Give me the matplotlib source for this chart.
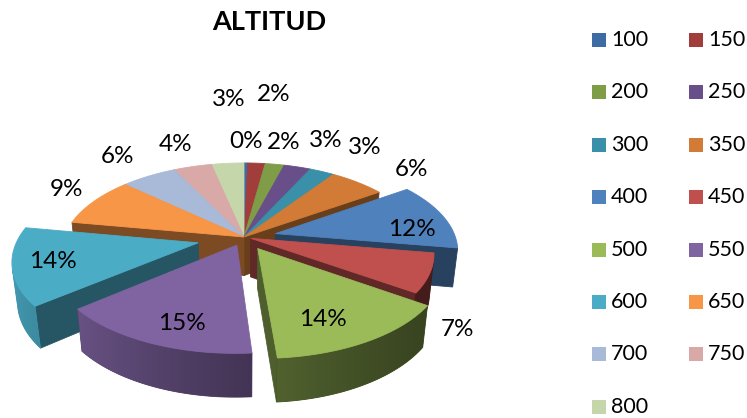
import matplotlib.pyplot as plt
import numpy as np
from matplotlib.patches import Polygon, Rectangle
from matplotlib.colors import to_rgb

# ---- data (share of records per altitude class, %) ----
altitudes = ['100', '150', '200', '250', '300', '350', '400', '450',
             '500', '550', '600', '650', '700', '750', '800']
shares = [0.4, 1.8, 2.0, 2.8, 2.6, 5.8, 12.2, 7.0, 14.2, 15.2, 13.8, 9.0, 5.8, 4.0, 3.4]
colors = ['#3D6BA4', '#A13E3B', '#7F9C47', '#694F8A', '#3A90A8', '#D27B36',
          '#4F81BD', '#C0504D', '#9BBB59', '#8064A2', '#4BACC6', '#F79646',
          '#A9B9D8', '#D9A9A8', '#C5D6AB']

# ---- 3D look (exploded slices, label placement) ----
explode = [0, 0, 0, 0, 0, 0, 0.18, 0.04, 0.15, 0.10, 0.26, 0, 0, 0, 0]
label_r = [1.36, 2.3, 1.36, 1.48, 1.5, 1.4, 0.95, 1.35, 0.9, 0.9, 1.05, 1.25, 1.39, 1.39, 2.17]
label_shift = [0, 1, 0, 2, 3, 5, 7, 20, 5, -4, 0, 3, 0, 0, 3]

CX, CY = 244, 237          # pie centre in pixels
FOC, DIST = 923.0, 5.13    # perspective
ELEV = np.radians(28.8)
THICK = 0.25
SE, CE = np.sin(ELEV), np.cos(ELEV)


def project(x, z, h):
    yc = z * SE + h * CE
    d = DIST + z * CE - h * SE
    return CX + FOC * x / d, CY - FOC * yc / d


def area(pts):
    p = np.asarray(pts)
    return 0.5 * np.sum(p[:, 0] * np.roll(p[:, 1], -1) - np.roll(p[:, 0], -1) * p[:, 1])


def shade(c, f):
    return tuple(min(1, v * f) for v in to_rgb(c))


fig = plt.figure(figsize=(7.47, 4.18), dpi=100)
ax = fig.add_axes([0, 0, 1, 1])
ax.set_xlim(0, 747)
ax.set_ylim(418, 0)
ax.axis('off')

vals = np.array(shares) / np.sum(shares)
ends = np.cumsum(vals) * 360
starts = ends - vals * 360
mids = np.radians((starts + ends) / 2)

# far slices first
order = sorted(range(len(vals)), key=lambda i: -(explode[i] + 0.5) * np.cos(mids[i]))

z = 1
for i in order:
    col = colors[i]
    ox, oz = explode[i] * np.sin(mids[i]), explode[i] * np.cos(mids[i])
    n = max(3, int(ends[i] - starts[i]) + 1)
    th = np.radians(np.linspace(starts[i], ends[i], n))
    rx, rz = ox + np.sin(th), oz + np.cos(th)
    top = [project(ox, oz, 0)] + [project(a, b, 0) for a, b in zip(rx, rz)]
    bot = [project(ox, oz, -THICK)] + [project(a, b, -THICK) for a, b in zip(rx, rz)]
    ref = np.sign(area(top))

    # radial faces
    for pts in ([top[1], top[0], bot[0], bot[1]], [top[0], top[-1], bot[-1], bot[0]]):
        if np.sign(area(pts)) == ref:
            fc = shade(col, 0.5)
            ax.add_patch(Polygon(pts, closed=True, facecolor=fc, edgecolor=fc, lw=0.6, zorder=z))
            z += 1
    # outer curved side, shaded with a smooth horizontal gradient
    vis = []
    for k in range(1, n):
        q = [top[k + 1], top[k], bot[k], bot[k + 1]]
        if np.sign(area(q)) == ref:
            nx = np.sin((th[k - 1] + th[k]) / 2)
            vis.append((q, 0.35 + 0.55 * ((1 - nx) / 2) ** 1.5))
    if vis:
        outline = [q[1] for q, _ in vis] + [vis[-1][0][0], vis[-1][0][3]] + [q[2] for q, _ in vis[::-1]]
        base = shade(col, np.mean([f for _, f in vis]))
        ax.add_patch(Polygon(outline, closed=True, facecolor=base, edgecolor=base, lw=0.6, zorder=z))
        z += 1
        xs = np.array([np.mean([p[0] for p in q]) for q, _ in vis])
        fs = np.array([f for _, f in vis])
        o = np.argsort(xs)
        ox_all = np.array([p[0] for p in outline])
        oy_all = np.array([p[1] for p in outline])
        x0, x1 = ox_all.min(), ox_all.max()
        cols = np.linspace(x0, x1, 200)
        fcol = np.interp(cols, xs[o], fs[o])
        img = np.clip(np.array(to_rgb(col))[None, None, :] * fcol[None, :, None], 0, 1)
        clip = Polygon(outline, closed=True, facecolor='none', edgecolor='none', transform=ax.transData)
        im = ax.imshow(img, extent=(x0, x1, oy_all.max(), oy_all.min()), aspect='auto',
                       interpolation='bilinear', zorder=z)
        im.set_clip_path(clip)
        z += 1
    ax.add_patch(Polygon(top, closed=True, facecolor=col, edgecolor=col, lw=0.6, zorder=z))
    z += 1

ax.set_xlim(0, 747)
ax.set_ylim(418, 0)

# percentage labels
for i in range(len(vals)):
    a = mids[i] + np.radians(label_shift[i])
    px, py = project(label_r[i] * np.sin(a), label_r[i] * np.cos(a), 0)
    ax.text(px, py, f'{vals[i] * 100:.0f}%', ha='center', va='center',
            fontsize=17.5, family='Lato', color='black', zorder=z + 1)

ax.text(269, 22, 'ALTITUD', ha='center', va='center', fontsize=19.5,
        fontweight='bold', family='Lato', color='black')

# legend, filled row by row like the original
for i, (lab, col) in enumerate(zip(altitudes, colors)):
    lx = 592 + 97 * (i % 2)
    ly = 40 + 52.4 * (i // 2)
    ax.add_patch(Rectangle((lx, ly - 7), 14, 14, facecolor=col, edgecolor='none'))
    ax.text(lx + 19, ly, lab, ha='left', va='center', fontsize=15.5,
            family='Lato', color='black')

plt.savefig('out.png', dpi=100)
